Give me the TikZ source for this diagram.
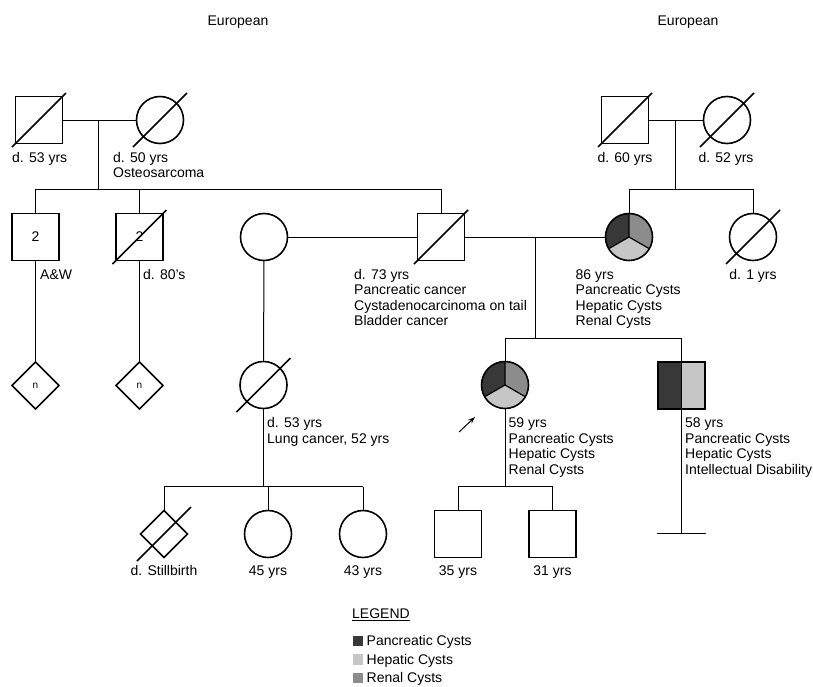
\documentclass[tikz,border=0pt]{standalone}
\usepackage{fontspec}
\setmainfont{Liberation Sans}
\usetikzlibrary{shapes.geometric,arrows.meta}

\definecolor{pancreatic}{HTML}{383838}
\definecolor{hepatic}{HTML}{C6C6C6}
\definecolor{renal}{HTML}{8C8C8C}

\tikzset{
  every node/.style={font=\fontsize{14}{15.6}\selectfont},
  ind/.style={draw, line width=1.6pt, inner sep=0pt, outer sep=0pt},
  male/.style={ind, rectangle, minimum size=47pt},
  female/.style={ind, circle, minimum size=47pt},
  unk/.style={ind, diamond, minimum width=47pt, minimum height=47pt, font=\fontsize{10}{12}\selectfont},
  rel/.style={line width=1pt},
  slash/.style={line width=1.6pt},
  note/.style={anchor=base west, align=left, inner sep=0pt},
  cnote/.style={anchor=base, inner sep=0pt},
  legbox/.style={minimum size=10.5pt, inner sep=0pt},
  tripie/.style={female, path picture={
    \fill[pancreatic] (path picture bounding box.center) -- ++(90:30pt) arc[start angle=90, end angle=210, radius=30pt] -- cycle;
    \fill[renal] (path picture bounding box.center) -- ++(90:30pt) arc[start angle=90, end angle=-30, radius=30pt] -- cycle;
    \fill[hepatic] (path picture bounding box.center) -- ++(210:30pt) arc[start angle=210, end angle=330, radius=30pt] -- cycle;
    \draw[line width=1.2pt] (path picture bounding box.center) -- ++(90:30pt)
      (path picture bounding box.center) -- ++(210:30pt)
      (path picture bounding box.center) -- ++(330:30pt);
  }},
  halfbox/.style={male, path picture={
    \fill[pancreatic] (path picture bounding box.south west) rectangle (path picture bounding box.north);
    \fill[hepatic] (path picture bounding box.south) rectangle (path picture bounding box.north east);
    \draw[line width=0.8pt] (path picture bounding box.south) -- (path picture bounding box.north);
  }},
}

\newcommand{\deceased}[1]{\draw[slash] ([shift={(-27pt,-27pt)}]#1.center) -- ([shift={(27pt,27pt)}]#1.center);}

\begin{document}
\begin{tikzpicture}[x=1pt,y=1pt]
\useasboundingbox (0,0) rectangle (813,-686);

\node[cnote] (eu1) at (238,-25) {European};
\node[cnote] (eu2) at (688,-25) {European};

% generation I
\node[male] (pgf) at (39,-120) {};
\node[female] (pgm) at (160,-120) {};
\node[male] (mgf) at (625,-120) {};
\node[female] (mgm) at (727,-120) {};

% generation II
\node[male] (u1) at (35.5,-237) {2};
\node[male] (u2) at (139.5,-237) {2};
\node[female] (w1) at (264,-237) {};
\node[male] (fa) at (441,-237) {};
\node[tripie] (mo) at (629,-237) {};
\node[female] (ma) at (753,-237) {};

% generation III
\node[unk] (n1) at (35.5,-385.5) {n};
\node[unk] (n2) at (139.5,-385.5) {n};
\node[female] (au) at (263.5,-385) {};
\node[tripie] (pro) at (505,-385) {};
\node[halfbox] (br) at (681.5,-385.5) {};

% generation IV
\node[unk] (sb) at (164,-534) {};
\node[female] (c1) at (268,-534) {};
\node[female] (c2) at (363,-534) {};
\node[male] (s1) at (458,-534) {};
\node[male] (s2) at (552.5,-534) {};

\foreach \p in {pgf,pgm,mgf,mgm,u2,fa,ma,au,sb} {\deceased{\p}}

% labels (base = last line)
\node[note] (l-pgf) at (12,-162) {d. 53 yrs};
\node[note] (l-pgm) at (113,-177.6) {d. 50 yrs\\Osteosarcoma};
\node[cnote] (l-mgf) at (625,-162) {d. 60 yrs};
\node[cnote] (l-mgm) at (726,-162) {d. 52 yrs};
\node[note] (l-u1) at (40,-279) {A\&W};
\node[note] (l-u2) at (143,-279) {d. 80's};
\node[note] (l-fa) at (354,-325.8) {d. 73 yrs\\Pancreatic cancer\\Cystadenocarcinoma on tail\\Bladder cancer};
\node[note] (l-mo) at (575.5,-325.8) {86 yrs\\Pancreatic Cysts\\Hepatic Cysts\\Renal Cysts};
\node[cnote] (l-ma) at (753,-279) {d. 1 yrs};
\node[note] (l-au) at (267,-443.1) {d. 53 yrs\\Lung cancer, 52 yrs};
\node[note] (l-pro) at (508.5,-474.3) {59 yrs\\Pancreatic Cysts\\Hepatic Cysts\\Renal Cysts};
\node[note] (l-br) at (685,-474.3) {58 yrs\\Pancreatic Cysts\\Hepatic Cysts\\Intellectual Disability};
\node[cnote] (l-sb) at (164,-575.5) {d. Stillbirth};
\node[cnote] (l-c1) at (268,-575.5) {45 yrs};
\node[cnote] (l-c2) at (363,-575.5) {43 yrs};
\node[cnote] (l-s1) at (458,-575.5) {35 yrs};
\node[cnote] (l-s2) at (552.5,-575.5) {31 yrs};

% lines of descent
\coordinate (j1) at (98.5,-120);
\coordinate (k1) at (98.5,-189);
\draw[rel] (pgf) -- (pgm);
\draw[rel] (j1) -- (k1);
\draw[rel] (k1 -| u1) -- (k1 -| fa);
\foreach \c in {u1,u2,fa} {\draw[rel] (k1 -| \c) -- (\c);}

\coordinate (j2) at (675.5,-120);
\coordinate (k2) at (675.5,-189);
\draw[rel] (mgf) -- (mgm);
\draw[rel] (j2) -- (k2);
\draw[rel] (k2 -| mo) -- (k2 -| ma);
\foreach \c in {mo,ma} {\draw[rel] (k2 -| \c) -- (\c);}

\draw[rel] (w1) -- (fa);
\draw[rel] (fa) -- (mo);
\coordinate (j3) at (535.5,-237);
\coordinate (k3) at (535.5,-338);
\draw[rel] (j3) -- (k3);
\draw[rel] (k3 -| pro) -- (k3 -| br);
\foreach \c in {pro,br} {\draw[rel] (k3 -| \c) -- (\c);}

\draw[rel] (u1) -- (n1);
\draw[rel] (u2) -- (n2);
\draw[rel] (w1) -- (au);

\coordinate (k4) at (263.5,-486.5);
\draw[rel] (au) -- (k4);
\draw[rel] (k4 -| sb) -- (k4 -| c2);
\foreach \c in {sb,c1,c2} {\draw[rel] (k4 -| \c) -- (\c);}

\coordinate (k5) at (505,-486.5);
\draw[rel] (pro) -- (k5);
\draw[rel] (k5 -| s1) -- (k5 -| s2);
\foreach \c in {s1,s2} {\draw[rel] (k5 -| \c) -- (\c);}

\coordinate (nc) at (681.5,-533.7);
\draw[rel] (br) -- (nc);
\draw[rel] ([xshift=-24.5pt]nc) -- ([xshift=24.5pt]nc);

% proband arrow
\coordinate (pa) at (459,-432);
\coordinate (pb) at (475,-417);
\draw[rel, -{Stealth[length=7pt,width=5pt]}] (pa) -- (pb);

% legend
\node[note] (leg) at (352,-618.3) {\underline{LEGEND}};
\node[legbox, fill=pancreatic] (kp) at (357.8,-641.2) {};
\node[legbox, fill=hepatic] (kh) at (357.8,-659.6) {};
\node[legbox, fill=renal] (kr) at (357.8,-678.2) {};
\node[note] (tp) at (366.5,-645.7) {Pancreatic Cysts};
\node[note] (th) at (366.5,-664.1) {Hepatic Cysts};
\node[note] (tr) at (366.5,-682.7) {Renal Cysts};
\end{tikzpicture}
\end{document}
